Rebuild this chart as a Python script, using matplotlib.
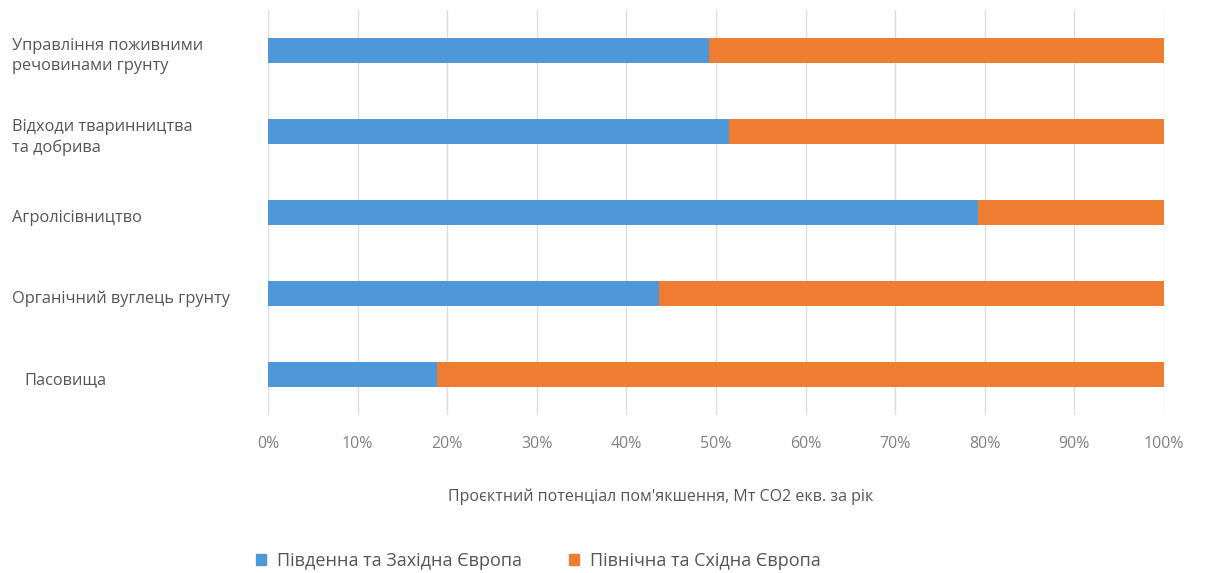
import matplotlib.pyplot as plt
import matplotlib.transforms as mtransforms
from matplotlib.patches import Patch

plt.rcParams['font.family'] = ['Open Sans', 'DejaVu Sans']

# Data (shares, %)
categories = ["Управління поживними\nречовинами грунту",
              "Відходи тваринництва\nта добрива",
              "Агролісівництво",
              "Органічний вуглець грунту",
              "Пасовища"]
south_west = [49.2, 51.5, 79.2, 43.6, 18.9]
north_east = [100 - v for v in south_west]
series_names = ["Південна та Західна Європа", "Північна та Східна Європа"]
xticks = list(range(0, 101, 10))

blue = "#4E97D8"
orange = "#EE7D31"
text_col = "#555555"

fig = plt.figure(figsize=(12.06, 5.73), dpi=100)
ax = fig.add_axes([268 / 1206, 1 - 415 / 573, (1164 - 268) / 1206, 405 / 573])

ypos = list(range(len(categories)))
ax.barh(ypos, south_west, height=0.32, color=blue, zorder=3)
ax.barh(ypos, north_east, left=south_west, height=0.32, color=orange, zorder=3)

ax.set_xlim(0, 100)
ax.set_ylim(len(categories) - 0.5, -0.5)
ax.set_xticks(xticks)
ax.set_xticklabels([f"{t}%" for t in xticks], color="#808080", fontsize=11.5)
ax.tick_params(axis='x', length=0, pad=15)
ax.set_yticks([])
ax.grid(axis='x', color="#dddddd", linewidth=1, zorder=0)
for s in ax.spines.values():
    s.set_visible(False)

# category labels, left aligned at the figure edge
trans = mtransforms.blended_transform_factory(fig.transFigure, ax.transData)
for i, lab in enumerate(categories):
    x0 = 24 / 1206 if lab == "Пасовища" else 12 / 1206
    ax.text(x0, i + 0.07, lab, transform=trans, ha='left', va='center',
            fontsize=11.8, color=text_col, linespacing=1.35)

ax.set_xlabel("Проєктний потенціал пом'якшення, Мт СО2 екв. за рік",
              fontsize=11.5, color=text_col)
ax.xaxis.set_label_coords((661 - 268) / 896, -(497 - 415) / 405, transform=ax.transAxes)
ax.xaxis.label.set_va('center')

handles = [Patch(color=blue), Patch(color=orange)]
fig.legend(handles, series_names, loc='center left', bbox_to_anchor=(240 / 1206, 1 - 561 / 573),
           ncol=2, frameon=False, fontsize=13, labelcolor=text_col,
           handlelength=0.55, handleheight=0.55, columnspacing=2.6, handletextpad=0.6)

fig.savefig("out.png", dpi=100, facecolor="white")
